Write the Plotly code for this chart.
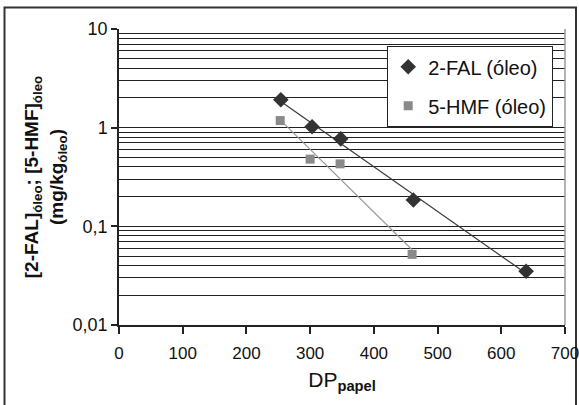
import numpy as np
import plotly.graph_objects as go

# Data
fal_dp = [254, 303, 348, 462, 639]
fal_conc = [1.92, 1.02, 0.77, 0.185, 0.035]
hmf_dp = [253, 300, 347, 460]
hmf_conc = [1.18, 0.48, 0.43, 0.052]

x_ticks = [0, 100, 200, 300, 400, 500, 600, 700]
y_ticks = [0.01, 0.1, 1, 10]
y_ticktext = ["0,01", "0,1", "1", "10"]

minor_vals = [m * 10.0 ** e for e in range(-2, 1) for m in range(2, 10)]

def exp_fit(x, y):
    b, a = np.polyfit(np.array(x, float), np.log(np.array(y, float)), 1)
    xs = np.array([min(x), max(x)], float)
    return xs, np.exp(a + b * xs)

fx, fy = exp_fit(fal_dp, fal_conc)
hx, hy = exp_fit(hmf_dp, hmf_conc)

FONT = "Liberation Sans, Arial, sans-serif"

fig = go.Figure()
fig.add_trace(go.Scatter(x=fx, y=fy, mode="lines", line=dict(color="#3a3a3a", width=1.2),
                         showlegend=False, hoverinfo="skip"))
fig.add_trace(go.Scatter(x=hx, y=hy, mode="lines", line=dict(color="#9a9a9a", width=1.2),
                         showlegend=False, hoverinfo="skip"))
fig.add_trace(go.Scatter(x=fal_dp, y=fal_conc, mode="markers", name="2-FAL (óleo)",
                         legendgroup="a",
                         marker=dict(symbol="diamond", size=12, color="#333333")))
fig.add_trace(go.Scatter(x=hmf_dp, y=hmf_conc, mode="markers", name="5-HMF (óleo)",
                         legendgroup="b",
                         marker=dict(symbol="square", size=9, color="#8a8a8a")))

L, R, T, B = 119, 14, 29, 80
W, H = 579, 405
pw, ph = W - L - R, H - T - B

def px2x(px):
    return (px - L) / pw

def py2y(py):
    return (H - B - py) / ph

fig.update_layout(
    width=W, height=H,
    margin=dict(l=L, r=R, t=T, b=B, autoexpand=False),
    paper_bgcolor="white", plot_bgcolor="white",
    font=dict(family=FONT, size=17, color="#111111"),
    xaxis=dict(range=[0, 700], tickvals=x_ticks, showgrid=False, zeroline=False,
               automargin=False,
               showline=True, linecolor="#222222", linewidth=1.5,
               ticks="outside", ticklen=7, tickcolor="#222222", tickwidth=1.5,
               ticklabelstandoff=5, ticklabeloverflow="allow",
               tickfont=dict(size=17),
               title=dict(text="DP<sub><b>papel</b></sub>", font=dict(size=21), standoff=10)),
    yaxis=dict(type="log", range=[-2, 1], tickvals=y_ticks, ticktext=y_ticktext,
               automargin=False,
               showgrid=True, gridcolor="#222222", gridwidth=1.3,
               showline=True, linecolor="#222222", linewidth=1.5,
               ticks="outside", ticklen=6, tickcolor="#222222", tickwidth=1.5,
               tickfont=dict(size=18),
               minor=dict(tickvals=minor_vals, showgrid=True, gridcolor="#222222",
                          gridwidth=1.3, ticks=""),
               title=dict(text="<b>[2-FAL]<sub>óleo</sub>; [5-HMF]<sub>óleo</sub><br>(mg/kg<sub>óleo</sub>)</b>",
                          font=dict(size=19), standoff=4)),
    legend=dict(x=px2x(387), y=py2y(46), xanchor="left", yanchor="top",
                bgcolor="white", bordercolor="#222222", borderwidth=1.2,
                font=dict(size=20), itemsizing="trace", itemwidth=30,
                tracegroupgap=10),
    shapes=[
        dict(type="line", xref="paper", yref="paper", x0=1, x1=1, y0=0, y1=1,
             line=dict(color="#999999", width=1.5)),
        dict(type="rect", xref="paper", yref="paper",
             x0=px2x(4.5), x1=px2x(576), y0=py2y(420), y1=py2y(7.5),
             line=dict(color="#333333", width=2), layer="below"),
    ],
)

fig.write_html("out.html")
